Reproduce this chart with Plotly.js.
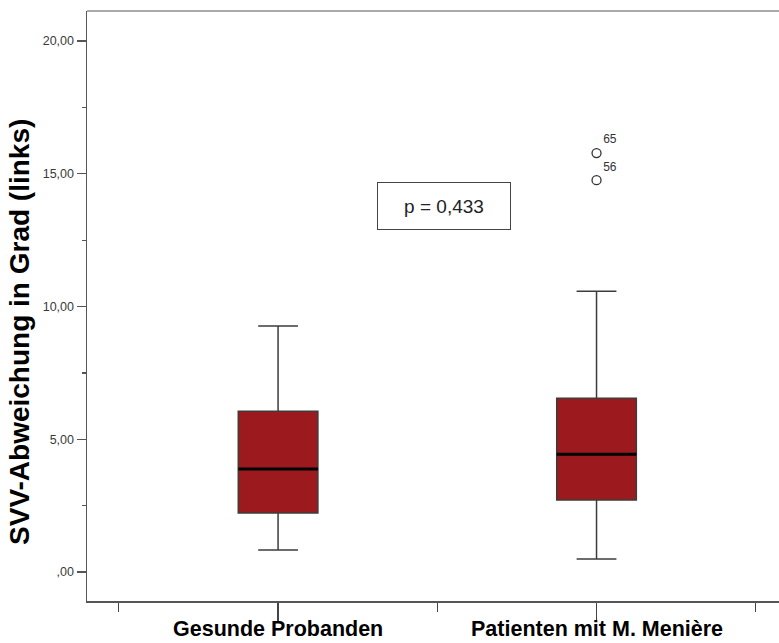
<!DOCTYPE html>
<html>
<head>
<meta charset="utf-8">
<script src="https://cdn.plot.ly/plotly-3.0.1.min.js"></script>
<style>html,body{margin:0;padding:0;background:#fff;}#chart{width:779px;height:643px;}</style>
</head>
<body>
<div id="chart"></div>
<script>
// ---- data ----
const categories = ["Gesunde Probanden", "Patienten mit M. Menière"];
const positions = [0, 1];
const lowerWhisker = [0.83, 0.49];
const q1Values = [2.22, 2.71];
const medianValues = [3.88, 4.44];
const q3Values = [6.06, 6.55];
const upperWhisker = [9.27, 10.58];
const outlierX = [1, 1];
const outlierY = [15.78, 14.76];
const outlierLabels = ["65", "56"];
const yTickValues = [0, 5, 10, 15, 20];
const yTickLabels = [",00", "5,00", "10,00", "15,00", "20,00"];
const yMinorTicks = [2.5, 7.5, 12.5, 17.5];
const xBoundaryTicks = [-0.5, 0.5, 1.5];
const yTitle = "SVV-Abweichung in Grad (links)";
const pValueText = "p = 0,433";
const pValuePos = {x: 0.52, y: 13.78};

const boxWidth = 0.25;
const boxFill = "#9c1a1d";
const lineCol = "#3c3c3c";
const fontFam = "Liberation Sans, Arial, sans-serif";

const traces = [];
traces.push({
  type: "box",
  x: positions,
  q1: q1Values,
  median: medianValues,
  q3: q3Values,
  lowerfence: lowerWhisker,
  upperfence: upperWhisker,
  width: boxWidth,
  whiskerwidth: 0.5,
  fillcolor: boxFill,
  line: {color: lineCol, width: 1.5},
  boxpoints: false,
  hoverinfo: "skip",
  showlegend: false
});
// median lines (black, thicker)
positions.forEach((p, i) => {
  traces.push({
    type: "scatter", mode: "lines",
    x: [p - boxWidth / 2, p + boxWidth / 2],
    y: [medianValues[i], medianValues[i]],
    line: {color: "#000", width: 3},
    hoverinfo: "skip", showlegend: false
  });
});
traces.push({
  type: "scatter", mode: "markers+text",
  x: outlierX, y: outlierY, text: outlierLabels,
  textposition: "top right",
  textfont: {family: fontFam, size: 12, color: "#333"},
  marker: {symbol: "circle-open", size: 9, color: "#333", line: {width: 1.3, color: "#333"}},
  hoverinfo: "skip", showlegend: false
});

const annotations = [{
  x: pValuePos.x, y: pValuePos.y, xref: "x", yref: "y",
  text: pValueText, showarrow: false,
  font: {size: 19, color: "#222"},
  bordercolor: "#444", borderwidth: 1, borderpad: 2,
  width: 128, height: 42, bgcolor: "#fff"
}, {
  x: (20 - 87) / 692, xref: "paper", xanchor: "center",
  y: 0.456, yref: "paper", yanchor: "middle",
  text: yTitle, textangle: -90, showarrow: false,
  font: {size: 28, color: "#000", weight: "bold", family: fontFam}
}];
// category labels below the axis
categories.forEach((c, i) => {
  annotations.push({
    x: positions[i], xref: "x", xanchor: "center", y: 0, yref: "paper",
    yanchor: "middle", yshift: -28,
    text: c, showarrow: false,
    font: {size: 21.5, color: "#000", weight: "bold", family: fontFam}
  });
});

const layout = {
  width: 779, height: 643,
  margin: {l: 87, r: 0, t: 11, b: 42},
  paper_bgcolor: "#fff", plot_bgcolor: "#fff",
  showlegend: false,
  font: {family: fontFam},
  xaxis: {
    range: [-0.6, 1.573],
    tickmode: "array", tickvals: positions, ticktext: ["", ""],
    ticks: "outside", ticklen: 18, tickwidth: 1.3, tickcolor: "#444",
    showgrid: false, zeroline: false,
    showline: true, linecolor: "#555", linewidth: 1.5,
    minor: {tickmode: "array", tickvals: xBoundaryTicks, ticks: "outside", ticklen: 9, tickwidth: 1.2, tickcolor: "#444", showgrid: false},
    fixedrange: true
  },
  yaxis: {
    range: [-1.09, 21.13],
    tickmode: "array", tickvals: yTickValues, ticktext: yTickLabels,
    ticks: "outside", ticklen: 9, tickwidth: 1.3, tickcolor: "#555",
    tickfont: {size: 12.5, color: "#3a3a3a"},
    showgrid: false, zeroline: false,
    showline: true, linecolor: "#555", linewidth: 1.5,
    minor: {tickmode: "array", tickvals: yMinorTicks, ticks: "outside", ticklen: 4, tickwidth: 1.2, tickcolor: "#555", showgrid: false},
    fixedrange: true
  },
  shapes: [{type: "line", xref: "paper", yref: "paper", x0: 0, x1: 1, y0: 1, y1: 1, line: {color: "#8c8c8c", width: 1.5}}],
  annotations: annotations
};

Plotly.newPlot("chart", traces, layout, {displayModeBar: false, staticPlot: true});
</script>
</body>
</html>
